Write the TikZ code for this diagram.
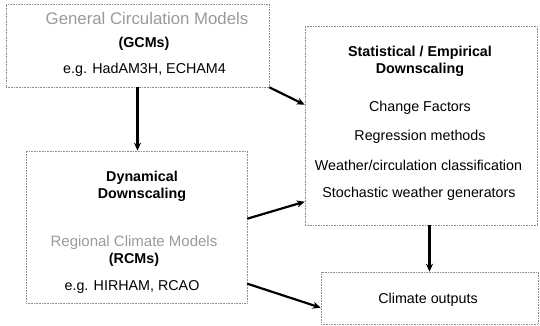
\documentclass[tikz,border=0pt]{standalone}
\usepackage{fontspec}
\setmainfont{Liberation Sans}
\usetikzlibrary{arrows.meta}
\definecolor{headgray}{HTML}{9A9A9A}
\definecolor{boxgray}{HTML}{8C8C8C}
\begin{document}
\begin{tikzpicture}[x=1pt,y=-1pt,
  box/.style={draw=boxgray,line width=0.6pt,densely dotted,rectangle,inner sep=0pt},
  txt/.style={inner sep=0pt,font=\fontsize{14.3}{16}\selectfont},
  btxt/.style={inner sep=0pt,font=\fontsize{14.3}{16}\selectfont\bfseries},
  htxt/.style={inner sep=0pt,text=headgray},
  arr/.style={line width=2.2pt,-{Stealth[length=8pt,width=7pt]}}]
\useasboundingbox (0,0) rectangle (540,326);
% boxes
\node[box,minimum width=263pt,minimum height=83pt] (gcm) at (137.5,45.5) {};
\node[box,minimum width=232pt,minimum height=199pt] (stat) at (421,125.5) {};
\node[box,minimum width=221pt,minimum height=152pt] (dyn) at (136.5,227) {};
\node[box,minimum width=217pt,minimum height=52pt] (clim) at (429.5,298) {};
% GCM texts
\node[htxt,font=\fontsize{16.8}{18}\selectfont] (g1) at (147,18) {General Circulation Models};
\node[btxt] (g2) at (144,44) {(GCMs)};
\node[txt] (g3) at (144.5,70) {e.g. HadAM3H, ECHAM4};
% Stat texts
\node[btxt] (s1) at (420,53) {Statistical / Empirical};
\node[btxt] (s2) at (420,70) {Downscaling};
\node[txt] (s3) at (420,108) {Change Factors};
\node[txt] (s4) at (420,137) {Regression methods};
\node[txt] (s5) at (418.5,165) {Weather/circulation classification};
\node[txt] (s6) at (419,194) {Stochastic weather generators};
% Dyn texts
\node[btxt] (d1) at (142,178) {Dynamical};
\node[btxt] (d2) at (142,195) {Downscaling};
\node[htxt,font=\fontsize{15}{17}\selectfont] (d3) at (134,243) {Regional Climate Models};
\node[btxt] (d4) at (134,260) {(RCMs)};
\node[txt] (d5) at (132,287) {e.g. HIRHAM, RCAO};
% Climate outputs
\node[txt] (c1) at (428,300) {Climate outputs};
% arrows
\draw[arr] (gcm.south) -- (gcm.south |- dyn.north);
\draw[arr] (gcm.south east) -- ([yshift=-79pt]stat.north west);
\draw[arr] ([yshift=-68pt]dyn.north east) -- ([yshift=-176pt]stat.north west);
\draw[arr] ([yshift=-133pt]dyn.north east) -- ([yshift=-36pt]clim.north west);
\draw[arr] (stat.south -| clim.north) -- (clim.north);
\end{tikzpicture}
\end{document}
